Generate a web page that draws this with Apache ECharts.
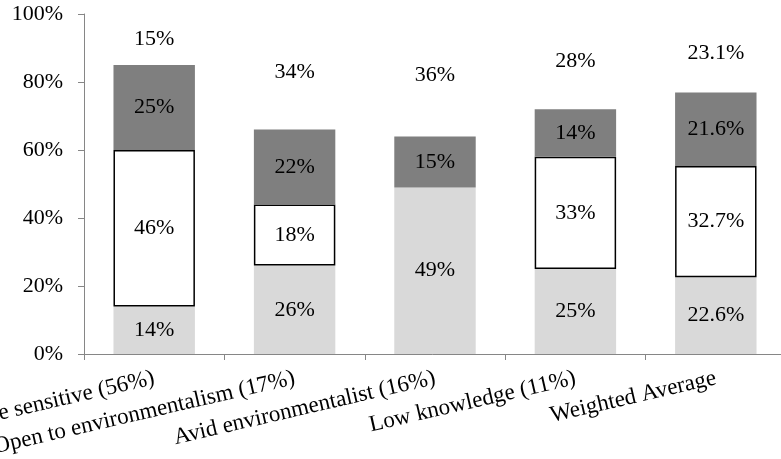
<!DOCTYPE html>
<html>
<head>
<meta charset="utf-8">
<script src="https://cdn.jsdelivr.net/npm/echarts@6/dist/echarts.min.js"></script>
<style>
  html, body { margin: 0; padding: 0; background: #fff; }
  #chart { width: 781px; height: 459px; }
</style>
</head>
<body>
<div id="chart"></div>
<script>
// Segment shares per customer group (percent of each group)
const categories = [
  'Price sensitive (56%)',
  'Open to environmentalism (17%)',
  'Avid environmentalist (16%)',
  'Low knowledge (11%)',
  'Weighted Average'
];
const bottomShare = [14, 26, 49, 25, 22.6];
const middleShare = [46, 18, '-', 33, 32.7];
const upperShare  = [25, 22, 15, 14, 21.6];
const topShare    = [15, 34, 36, 28, 23.1];
const yTicks = [0, 20, 40, 60, 80, 100];

const font = 'Liberation Serif, Times New Roman, serif';
const fontSize = 22;
const labelStyle = {
  show: true,
  position: 'inside',
  color: '#000',
  fontFamily: font,
  fontSize: fontSize,
  formatter: p => (p.value === '-' ? '' : p.value + '%')
};

function seg(name, data, itemStyle) {
  return {
    name, type: 'bar', stack: 'total', data,
    barWidth: '58%',
    itemStyle,
    label: labelStyle,
    emphasis: { disabled: true }
  };
}

const chart = echarts.init(document.getElementById('chart'));
chart.setOption({
  animation: false,
  grid: {
    left: 84, right: -5, top: 14, bottom: 105,
    containLabel: false, outerBoundsMode: 'none'
  },
  xAxis: {
    type: 'category',
    data: categories,
    axisLine: { lineStyle: { color: '#868686', width: 1 } },
    axisTick: { show: true, length: 6, lineStyle: { color: '#868686' } },
    axisLabel: {
      rotate: 13, margin: 24, color: '#000',
      fontFamily: font, fontSize: 23, interval: 0
    }
  },
  yAxis: {
    type: 'value',
    min: yTicks[0], max: yTicks[yTicks.length - 1], interval: 20,
    splitLine: { show: false },
    axisLine: { show: true, lineStyle: { color: '#868686', width: 1 } },
    axisTick: { show: true, length: 6, lineStyle: { color: '#868686' } },
    axisLabel: {
      margin: 21, color: '#000', fontFamily: font, fontSize: fontSize,
      formatter: v => v + '%'
    }
  },
  series: [
    seg('bottom', bottomShare, { color: '#d9d9d9' }),
    seg('middle', middleShare, { color: '#ffffff', borderColor: '#000', borderWidth: 1.5 }),
    seg('upper', upperShare, { color: '#7f7f7f' }),
    seg('top', topShare, { color: 'rgba(0,0,0,0)' })
  ]
});
</script>
</body>
</html>
